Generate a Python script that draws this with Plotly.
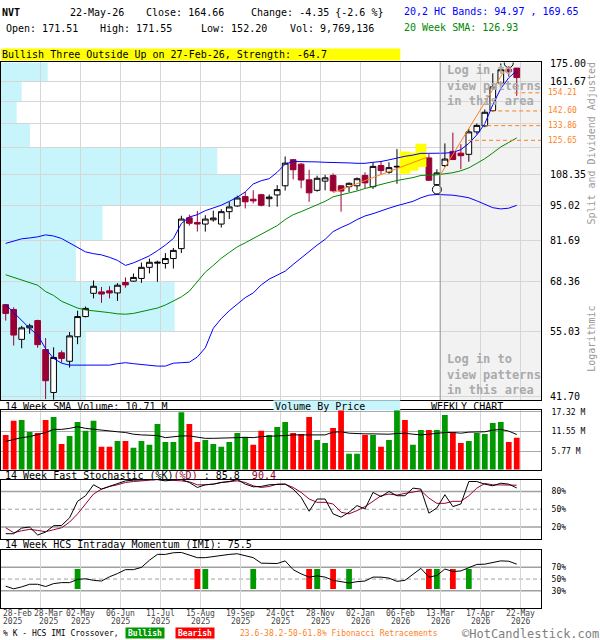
import math
import pandas as pd
import plotly.graph_objects as go
from plotly.subplots import make_subplots

# ---- weekly NVT data ----
dates = pd.date_range('2025-02-28', periods=65, freq='7D')

opens = [61.9, 60.6, 53.3, 56.0, 57.8, 51.0, 42.4, 50.3, 48.5, 53.9,
         58.8, 65.0, 65.4, 65.7, 65.1, 68.1, 68.5, 69.3, 72.7, 74.0,
         73.9, 75.5, 78.8, 90.0, 88.2, 87.6, 89.2, 87.6, 92.4, 94.7,
         98.6, 97.5, 99.4, 97.7, 99.3, 103.3, 115.6, 113.4, 106.0, 101.3,
         105.4, 108.0, 103.3, 102.9, 103.3, 108.0, 102.9, 112.7, 109.5, 112.0,
         114.3, 111.5, 115.6, 116.5, 103.8, 112.7, 119.8, 118.9, 118.3, 130.3,
         133.7, 142.8, 160.7, 170.6, 171.51]
highs = [62.0, 61.2, 56.5, 57.0, 58.0, 53.6, 51.5, 50.8, 55.0, 60.3,
         61.4, 68.7, 66.8, 67.0, 67.9, 69.6, 70.8, 74.2, 75.5, 74.8,
         77.3, 79.0, 90.8, 91.2, 92.7, 91.0, 92.8, 93.4, 96.4, 99.0,
         100.6, 101.3, 99.8, 99.5, 103.6, 117.2, 115.9, 113.9, 110.7, 107.9,
         108.3, 109.0, 103.6, 104.8, 107.1, 109.5, 114.3, 114.9, 114.3, 121.0,
         119.0, 118.4, 123.1, 118.4, 110.9, 124.0, 129.9, 123.6, 132.0, 135.1,
         143.5, 167.7, 175.0, 173.0, 171.55]
lows = [57.8, 51.9, 51.3, 54.6, 51.4, 41.2, 41.1, 48.2, 47.2, 52.2,
        58.6, 63.6, 62.4, 63.6, 62.9, 66.6, 68.3, 68.0, 70.8, 68.3,
        72.3, 72.3, 77.3, 87.0, 84.8, 84.8, 88.5, 86.3, 89.5, 94.3,
        93.7, 95.7, 94.5, 94.3, 94.4, 101.2, 106.2, 102.2, 96.4, 100.7,
        101.3, 100.6, 92.4, 100.6, 101.3, 102.2, 101.9, 108.5, 108.8, 104.2,
        109.5, 110.9, 112.7, 105.6, 103.2, 112.0, 115.4, 111.0, 114.6, 129.0,
        133.0, 142.2, 159.7, 165.4, 152.20]
closes = [59.6, 54.3, 56.0, 56.5, 52.1, 44.6, 49.3, 49.1, 54.1, 58.8,
          60.9, 67.0, 64.8, 65.1, 67.3, 67.4, 69.6, 72.7, 74.3, 74.3,
          75.5, 78.2, 89.5, 87.9, 87.6, 89.5, 89.9, 92.4, 94.3, 98.0,
          96.4, 96.8, 95.0, 98.4, 101.6, 113.9, 110.7, 105.9, 100.2, 106.7,
          106.9, 101.1, 101.0, 104.4, 106.5, 104.6, 112.3, 110.3, 111.7, 112.3,
          112.3, 116.4, 118.2, 105.8, 109.2, 115.9, 115.7, 117.6, 130.3, 134.0,
          141.8, 158.2, 170.3, 169.01, 164.66]

band_upper = [80.6, 81.5, 82.2, 82.5, 82.9, 83.6, 83.2, 82.3, 80.8, 79.1,
              77.7, 77.1, 76.7, 75.9, 74.9, 73.3, 74.1, 75.2, 76.4, 78.1,
              80.0, 82.3, 87.8, 90.3, 91.2, 92.8, 94.0, 95.0, 96.6, 98.3,
              100.6, 104.1, 105.6, 106.5, 109.5, 113.4, 114.7, 114.7, 114.6, 114.5,
              114.3, 114.3, 114.1, 114.0, 113.8, 113.8, 114.3, 114.7, 115.5, 116.5,
              117.3, 117.9, 118.8, 118.8, 118.8, 118.9, 119.3, 120.7, 124.0, 128.6,
              135.0, 146.5, 157.0, 164.5, 169.65]
band_mid = [70.4, 69.6, 68.8, 68.0, 67.3, 65.5, 64.4, 62.8, 61.8, 61.0,
            60.5, 60.3, 60.0, 59.8, 59.5, 59.4, 59.6, 60.0, 60.4, 61.0,
            61.8, 62.8, 64.0, 65.6, 68.2, 71.2, 73.3, 75.6, 77.5, 79.4,
            80.8, 82.3, 84.1, 85.4, 87.0, 89.3, 91.2, 92.4, 93.8, 95.2,
            96.6, 98.5, 99.3, 100.2, 101.0, 102.1, 103.1, 103.9, 104.8, 105.7,
            106.3, 107.0, 108.0, 108.1, 108.3, 108.8, 109.3, 110.2, 111.6, 113.8,
            116.1, 119.0, 122.1, 124.5, 126.93]
band_lower = [61.9, 59.8, 57.8, 55.9, 54.3, 51.2, 49.1, 48.1, 47.7, 47.7,
              47.7, 47.7, 47.7, 47.7, 48.0, 48.2, 48.0, 47.8, 47.6, 47.5,
              47.5, 48.1, 48.2, 48.3, 49.4, 51.4, 55.9, 58.3, 60.3, 62.1,
              63.8, 65.1, 67.4, 69.1, 70.3, 71.5, 73.6, 75.7, 77.7, 80.0,
              82.0, 84.8, 86.3, 87.6, 89.3, 90.7, 91.6, 92.8, 93.8, 94.8,
              95.8, 96.6, 98.1, 99.2, 99.5, 99.4, 99.2, 98.7, 98.1, 96.8,
              95.4, 94.0, 93.5, 93.8, 94.97]

# weekly volume, millions; r = down week, g = up week
volume = [10.58, 14.72, 14.91, 11.45, 11.16, 14.91, 15.78, 7.98, 10.29, 14.34,
          11.83, 14.72, 7.12, 7.12, 8.85, 8.85, 6.83, 8.85, 7.70, 13.76,
          8.56, 8.56, 17.22, 13.76, 8.56, 9.14, 7.98, 7.12, 8.56, 11.16,
          10.00, 7.70, 11.83, 10.58, 12.89, 14.34, 11.16, 10.87, 15.78, 9.14,
          8.27, 12.60, 18.2, 5.10, 5.10, 10.58, 10.58, 7.12, 9.14, 18.0,
          14.91, 7.70, 12.03, 12.03, 12.03, 16.36, 11.45, 8.27, 8.85, 11.16,
          10.87, 14.05, 14.34, 8.56, 9.77]
vol_dir = "rrggrrgrgg" "ggrrgrgggg" "gggrrggggg" "grrgggrrrg" "grrggrgrgg" "rggrggrrgg" "gggrr"
vol_sma = [8.7, 9.3, 9.8, 10.1, 10.6, 11.3, 12.2, 12.2, 12.5, 13.0,
           12.5, 12.2, 12.0, 11.7, 11.5, 11.3, 10.8, 10.6, 10.6, 10.4,
           9.8, 10.1, 10.3, 10.3, 9.9, 9.6, 9.6, 9.6, 9.6, 9.8,
           9.9, 9.8, 10.1, 10.2, 10.1, 10.4, 10.6, 10.6, 10.8, 10.6,
           10.6, 11.4, 11.5, 11.1, 10.9, 10.9, 10.9, 10.8, 10.8, 11.0,
           11.1, 10.8, 10.6, 10.8, 11.1, 11.3, 11.3, 11.1, 11.4, 11.5,
           11.5, 12.0, 12.2, 11.7, 10.71]

stoch_k = [8.8, 8.8, 18.3, 20.0, 6.6, 11.6, 22.2, 22.7, 35.5, 63.3,
           72.7, 91.1, 83.8, 88.3, 93.3, 97.7, 98.8, 100, 100, 99.9,
           97.7, 99.4, 100, 95.0, 86.6, 91.1, 92.2, 95.0, 96.6, 100,
           92.2, 87.7, 88.3, 91.1, 92.2, 92.2, 83.8, 70.0, 46.6, 67.2,
           67.2, 42.2, 36.6, 44.9, 56.1, 50.5, 78.3, 71.1, 79.9, 72.7,
           72.7, 85.5, 83.8, 43.3, 52.2, 74.4, 54.4, 58.8, 96.6, 96.6,
           92.2, 89.4, 93.8, 92.2, 85.8]
stoch_d = [18.8, 10.5, 13.8, 16.1, 14.4, 12.2, 15.5, 18.8, 28.3, 42.2,
           58.8, 75.5, 83.8, 88.3, 91.1, 95.0, 96.6, 97.7, 99.4, 99.9,
           99.4, 98.8, 97.7, 96.1, 91.1, 91.1, 92.2, 95.0, 96.6, 97.7,
           95.0, 89.4, 86.6, 88.3, 92.2, 92.2, 86.6, 78.3, 67.2, 61.6,
           61.6, 58.8, 44.9, 42.2, 47.7, 54.4, 63.3, 72.7, 75.5, 73.8,
           76.6, 78.3, 81.1, 68.8, 59.9, 59.9, 63.3, 63.3, 72.7, 85.5,
           93.3, 91.1, 91.1, 91.1, 90.4]
imi = [37.8, 33.3, 36.6, 41.1, 41.1, 37.2, 42.2, 43.9, 43.9, 49.4,
       50.5, 47.8, 46.6, 53.9, 59.4, 66.1, 66.1, 70.0, 82.2, 92.2,
       92.2, 95.0, 95.5, 90.5, 86.6, 86.6, 88.9, 91.1, 92.2, 93.3,
       89.4, 86.6, 77.2, 76.6, 76.6, 81.1, 66.1, 58.9, 53.3, 55.5,
       53.3, 47.8, 45.0, 43.3, 45.5, 46.6, 53.3, 53.3, 51.6, 46.1,
       47.8, 57.8, 68.3, 53.3, 56.1, 67.2, 62.8, 63.9, 68.9, 75.0,
       75.5, 78.9, 81.1, 80.5, 75.5]

cross_weeks = [9, 24, 25, 31, 38, 39, 41, 43, 53, 54, 56, 58]
cross_kind = ['bull', 'bear', 'bull', 'bull', 'bear', 'bull',
              'bear', 'bull', 'bear', 'bull', 'bear', 'bull']

# price axis levels and volume-by-price per band (top band first, M shares)
price_ticks = [175.00, 161.67, 148.34, 135.01, 121.68, 108.35,
               95.02, 81.69, 68.36, 55.03, 41.70]
hidden_ticks = [148.34, 135.01, 121.68]
vbp_volume = [32.7, 14.5, 11.0, 20.3, 151.7, 168.0, 71.2, 52.5, 121.8, 59.5]

fib_levels = [154.21, 142.60, 133.86, 125.65]
fib_from = [63.7, 60.8, 60.3, 57.9]
trend_lines = [[(41.0, 100.3), (52.7, 116.7)], [(54.3, 107.5), (62.6, 171.0)]]

pattern_weeks = [50, 51, 52]
signal_marks = [(54, 'low'), (63, 'high')]

label_weeks = [0, 4, 9, 14, 19, 24, 29, 34, 39, 44, 49, 54, 59, 64]
locked_week = 54

# ---- layout helpers (pixel -> paper) ----
W, H = 600, 640
PR = 541
MONO = 'DejaVu Sans Mono'
MAROON = '#990033'
ORANGE = '#ff7f1e'


def fx(px):
    return px / PR


def fy(py):
    return 1 - py / H


X0 = -0.5875
X1 = X0 + PR / 8.0
PRICE_RANGE = [math.log10(41.0), math.log10(175.75)]
VBP_FULL = PR * 0.7
idx = list(range(len(dates)))

fig = make_subplots(rows=4, cols=1, shared_xaxes=True, vertical_spacing=0.0)

shapes = []

# volume by price bands, drawn under the grid on the price axes
ytop, ybot = 10 ** PRICE_RANGE[1], 10 ** PRICE_RANGE[0]
for i, v in enumerate(vbp_volume):
    hi = price_ticks[i] if i > 0 else ytop
    lo = price_ticks[i + 1] if i < len(vbp_volume) - 1 else ybot
    shapes.append(dict(type='rect', xref='x', yref='y', x0=X0, x1=X0 + v / VBP_FULL * (X1 - X0),
                       y0=lo, y1=hi, fillcolor='#c8f4fc', line=dict(width=0), layer='below'))

# pattern highlight boxes
for w in pattern_weeks:
    lo, hi = lows[w] * 0.994, highs[w] * 1.006
    fig.add_trace(go.Scatter(x=[w - 0.68, w + 0.68, w + 0.68, w - 0.68, w - 0.68],
                             y=[lo, lo, hi, hi, lo], fill='toself', fillcolor='#ffff00',
                             mode='none', hoverinfo='skip', showlegend=False), row=1, col=1)

for series, color in [(band_upper, '#0000ff'), (band_lower, '#0000ff'), (band_mid, '#008800')]:
    fig.add_trace(go.Scatter(x=idx, y=series, mode='lines', line=dict(color=color, width=1),
                             hoverinfo='skip', showlegend=False), row=1, col=1)

fig.add_trace(go.Candlestick(
    x=idx, open=opens, high=highs, low=lows, close=closes,
    increasing=dict(line=dict(color='black', width=1), fillcolor='white'),
    decreasing=dict(line=dict(color=MAROON, width=1), fillcolor=MAROON),
    whiskerwidth=0, hoverinfo='skip', showlegend=False), row=1, col=1)

for (xa, ya), (xb, yb) in trend_lines:
    fig.add_trace(go.Scatter(x=[xa, xb], y=[ya, yb], mode='lines',
                             line=dict(color=ORANGE, width=1),
                             hoverinfo='skip', showlegend=False), row=1, col=1)
for lvl, start in zip(fib_levels, fib_from):
    fig.add_trace(go.Scatter(x=[start, X1], y=[lvl, lvl], mode='lines',
                             line=dict(color=ORANGE, width=1, dash='4px,3px'),
                             hoverinfo='skip', showlegend=False), row=1, col=1)

mx = [w for w, _ in signal_marks]
my = [lows[w] * 0.985 if side == 'low' else highs[w] * 1.013 for w, side in signal_marks]
fig.add_trace(go.Scatter(x=mx, y=my, mode='markers',
                         marker=dict(symbol='circle-open', size=9, color='black', line=dict(width=1)),
                         hoverinfo='skip', showlegend=False), row=1, col=1)

# volume
fig.add_trace(go.Bar(x=idx, y=volume, width=0.72,
                     marker=dict(color=['#ff0000' if c == 'r' else '#009900' for c in vol_dir], line=dict(width=0)),
                     hoverinfo='skip', showlegend=False), row=2, col=1)
fig.add_trace(go.Scatter(x=idx, y=vol_sma, mode='lines', line=dict(color='black', width=1),
                         hoverinfo='skip', showlegend=False), row=2, col=1)

# stochastic with overbought / oversold shading
fig.add_trace(go.Scatter(x=idx, y=[80] * len(idx), mode='none', hoverinfo='skip', showlegend=False), row=3, col=1)
fig.add_trace(go.Scatter(x=idx, y=[max(d, 80) for d in stoch_d], mode='none', fill='tonexty',
                         fillcolor='#cccc99', hoverinfo='skip', showlegend=False), row=3, col=1)
fig.add_trace(go.Scatter(x=idx, y=[20] * len(idx), mode='none', hoverinfo='skip', showlegend=False), row=3, col=1)
fig.add_trace(go.Scatter(x=idx, y=[min(d, 20) for d in stoch_d], mode='none', fill='tonexty',
                         fillcolor='#cccc99', hoverinfo='skip', showlegend=False), row=3, col=1)
fig.add_trace(go.Scatter(x=idx, y=stoch_d, mode='lines', line=dict(color=MAROON, width=1),
                         hoverinfo='skip', showlegend=False), row=3, col=1)
fig.add_trace(go.Scatter(x=idx, y=stoch_k, mode='lines', line=dict(color='black', width=1),
                         hoverinfo='skip', showlegend=False), row=3, col=1)

# intraday momentum with crossover bars
fig.add_trace(go.Bar(x=cross_weeks, y=[34] * len(cross_weeks), base=33, width=0.72,
                     marker=dict(color=['#009900' if k == 'bull' else '#ff0000' for k in cross_kind], line=dict(width=0)),
                     hoverinfo='skip', showlegend=False), row=4, col=1)
fig.add_trace(go.Scatter(x=idx, y=imi, mode='lines', line=dict(color='black', width=1),
                         hoverinfo='skip', showlegend=False), row=4, col=1)

# ---- axes ----
grid_x = [w + 0.41 for w in label_weeks if w > 0]
frame = dict(showline=True, linecolor='black', linewidth=1, mirror=True, zeroline=False)
for r in range(1, 5):
    fig.update_xaxes(range=[X0, X1], tickmode='array', tickvals=grid_x,
                     showgrid=True, gridcolor='#d6d6d6', gridwidth=1, showticklabels=False,
                     ticks='', rangeslider=dict(visible=False), **frame, row=r, col=1)

fig.update_yaxes(type='log', range=PRICE_RANGE, side='right', tickmode='array', tickvals=price_ticks,
                 ticktext=['' if t in hidden_ticks else '%.2f' % t for t in price_ticks],
                 showgrid=True, gridcolor='#d6d6d6', ticks='outside', ticklen=6, tickcolor='rgba(0,0,0,0)',
                 tickfont=dict(family=MONO, size=10, color='black'), **frame, row=1, col=1)
fig.update_yaxes(range=[0.5, 17.8], side='right', tickmode='array', tickvals=[5.77, 11.55, 17.32],
                 ticktext=['5.77 M', '11.55 M', '17.32 M'], showgrid=True, gridcolor='#aaaaaa',
                 ticks='outside', ticklen=8, tickcolor='rgba(0,0,0,0)',
                 tickfont=dict(family=MONO, size=8, color='black'), **frame, row=2, col=1)
fig.update_yaxes(range=[0, 100], side='right', tickmode='array', tickvals=[20, 50, 80],
                 ticktext=['20%', '50%', '80%'], showgrid=False, ticks='outside', ticklen=8,
                 tickcolor='rgba(0,0,0,0)', tickfont=dict(family=MONO, size=8, color='black'),
                 **frame, row=3, col=1)
fig.update_yaxes(range=[0, 100], side='right', tickmode='array', tickvals=[30, 50, 70],
                 ticktext=['30%', '50%', '70%'], showgrid=False, ticks='outside', ticklen=8,
                 tickcolor='rgba(0,0,0,0)', tickfont=dict(family=MONO, size=8, color='black'),
                 **frame, row=4, col=1)

shapes += [
    dict(type='rect', xref='x', yref='y domain', x0=locked_week + 0.41, x1=X1, y0=0, y1=1,
         fillcolor='#f2f2f2', line=dict(width=0), layer='below'),
    dict(type='line', xref='x', yref='y domain', x0=locked_week + 0.41, x1=locked_week + 0.41, y0=0, y1=1,
         line=dict(color='#999999', width=1)),
    dict(type='rect', xref='paper', yref='paper', x0=0, x1=fx(400), y0=fy(57), y1=fy(45),
         fillcolor='#ffff00', line=dict(width=0)),
    dict(type='rect', xref='paper', yref='paper', x0=fx(273), x1=fx(400), y0=fy(410), y1=fy(400),
         fillcolor='#c8f4fc', line=dict(width=0)),
]
for ax, levels in [('3', [(20, 'solid'), (50, 'dash'), (80, 'solid')]),
                   ('4', [(30, 'solid'), (50, 'dash'), (70, 'solid')])]:
    for lvl, dash in levels:
        shapes.append(dict(type='line', xref='x%s domain' % ax, yref='y' + ax, x0=0, x1=1, y0=lvl, y1=lvl,
                           line=dict(color='#a0a0a0', width=1.5 if dash == 'solid' else 1,
                                     dash='4px,3px' if dash == 'dash' else 'solid'),
                           layer='below'))


def note(text, px, py, size=10, color='black', anchor='left', **kw):
    return dict(text=text, xref='paper', yref='paper', x=fx(px), y=fy(py), xanchor=anchor,
                yanchor='middle', showarrow=False, font=dict(family=MONO, size=size, color=color),
                borderpad=0, **kw)


annotations = [
    note('<b>NVT</b>', 0, 9), note('22-May-26', 68, 9), note('Close: 164.66', 144, 9),
    note('Change: -4.35 {-2.6 %}', 249, 9),
    note('20,2 HC Bands: 94.97 , 169.65', 403, 8, color='#0000ff'),
    note('Open: 171.51', 4, 25), note('High: 171.55', 98, 25), note('Low: 152.20', 199, 25),
    note('Vol: 9,769,136', 289, 25), note('20 Week SMA: 126.93', 403, 24, color='#008800'),
    note('Bullish Three Outside Up on 27-Feb-26, Strength: -64.7', 0, 51),
    note('<b>Log in to<br>view patterns<br>in this area</b>', 446, 82, size=12, color='#aaaaaa', align='left'),
    note('<b>Log in to<br>view patterns<br>in this area</b>', 446, 374, size=12, color='#aaaaaa', align='left'),
    note('Split and Dividend Adjusted', 592, 140, color='#999999', anchor='center', textangle=-90),
    note('Logarithmic', 592, 338, color='#999999', anchor='center', textangle=-90),
    note('14 Week SMA Volume: 10.71 M', 3, 406), note('Volume By Price', 274, 406),
    note('WEEKLY CHART', 430, 406),
    note('14 Week Fast Stochastic (%K)<span style="color:#990033">(%D)</span> : 85.8  '
         '<span style="color:#990033">90.4</span>', 3, 476),
    note('14 Week HCS Intraday Momentum (IMI): 75.5', 3, 546),
    note('% K - HCS IMI Crossover,', 1, 635, size=8),
    note('<b>Bullish</b>', 144, 635, size=8, color='white', anchor='center', bgcolor='#009900', width=38),
    note('<b>Bearish</b>', 194, 635, size=8, color='white', anchor='center', bgcolor='#ff0000', width=38),
    note('23.6-38.2-50-61.8% Fibonacci Retracements', 238, 635, size=8, color=ORANGE),
    note('\u00a9HotCandlestick.com', 600, 635.5, size=12, color='#808080', anchor='right'),
]

# date labels under the bottom panel: day-month row and year row
for w in label_weeks:
    for text, py in [(dates[w].strftime('%d-%b'), 615), (dates[w].strftime('%Y'), 623)]:
        lab = dict(text=text, xref='x4', yref='paper', x=w + 0.41, y=fy(py), xanchor='center',
                   yanchor='middle', showarrow=False, font=dict(family=MONO, size=8, color='#444444'))
        if w == 0:
            lab.update(xref='paper', x=0, xanchor='left')
        elif w == 4:
            lab.update(xshift=8)
        annotations.append(lab)

for lvl in fib_levels:
    annotations.append(dict(text='%.2f' % lvl, xref='paper', yref='y', x=fx(546), y=math.log10(lvl),
                            xanchor='left', yanchor='middle', showarrow=False,
                            font=dict(family=MONO, size=8, color=ORANGE)))

fig.update_layout(
    width=W, height=H, margin=dict(l=0, r=W - PR, t=0, b=0),
    paper_bgcolor='white', plot_bgcolor='white', showlegend=False,
    barmode='overlay', boxgap=0.29, boxgroupgap=0, hovermode=False,
    yaxis=dict(domain=[fy(400), fy(59)]),
    yaxis2=dict(domain=[fy(470), fy(410)]),
    yaxis3=dict(domain=[fy(540), fy(480)]),
    yaxis4=dict(domain=[fy(610), fy(551)]),
    shapes=shapes, annotations=annotations,
)

# the page body has a default margin; drop it so the chart sits at the corner
fig.write_html("out.html", config={'displayModeBar': False},
               post_script="document.body.style.margin='0';")
